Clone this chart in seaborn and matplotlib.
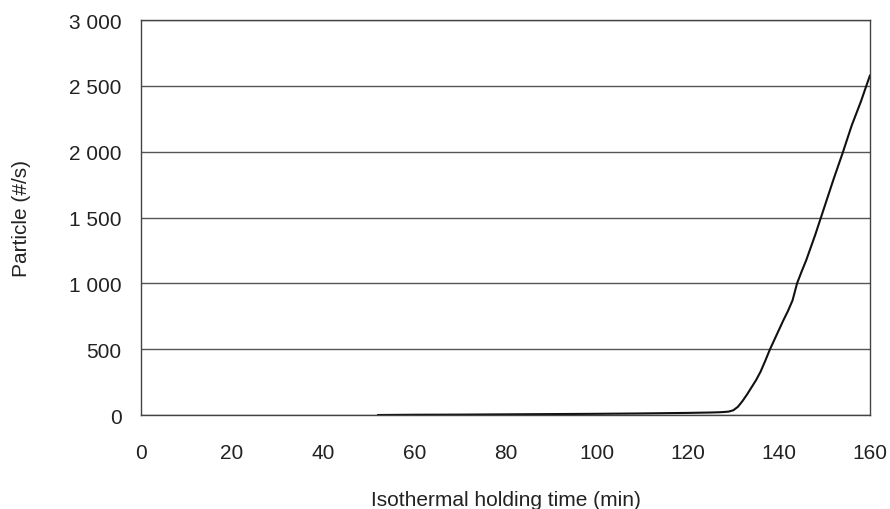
import matplotlib
matplotlib.use("Agg")
import matplotlib.pyplot as plt
from matplotlib.ticker import FuncFormatter, MultipleLocator
import seaborn as sns
import pandas as pd

time_min = [52, 60, 70, 80, 90, 100, 110, 120, 125, 127, 128, 129, 130, 131, 132, 133,
            134, 135, 136, 137, 138, 139, 140, 141, 142, 143, 144, 145, 146, 148,
            150, 152, 154, 156, 158, 160]
particles = [0, 2, 3, 5, 7, 9, 12, 16, 19, 21, 23, 26, 36, 62, 105, 155,
             210, 265, 330, 410, 495, 570, 645, 720, 790, 870, 1000, 1090, 1175, 1370,
             1580, 1790, 1990, 2200, 2380, 2580]

x_label = "Isothermal holding time (min)"
y_label = "Particle (#/s)"

df = pd.DataFrame({"t": time_min, "p": particles})

sns.set_theme(style="white")
plt.rcParams["font.family"] = ["Liberation Sans", "DejaVu Sans"]

fig = plt.figure(figsize=(8.9, 5.1), dpi=100)
ax = fig.add_axes([0.1584, 0.1843, 0.9775 - 0.1584, 0.9588 - 0.1843])

sns.lineplot(data=df, x="t", y="p", ax=ax, color="#111111", linewidth=1.5)

ax.set_xlim(0, 160)
ax.set_ylim(0, 3000)
ax.xaxis.set_major_locator(MultipleLocator(20))
ax.yaxis.set_major_locator(MultipleLocator(500))
ax.yaxis.set_major_formatter(FuncFormatter(lambda v, p: f"{int(v):,}".replace(",", " ")))
ax.yaxis.grid(True, color="#555555", linewidth=1.0)
ax.xaxis.grid(False)
ax.set_axisbelow(True)
for s in ax.spines.values():
    s.set_color("#444444")
    s.set_linewidth(1.0)
    s.set_visible(True)

ax.tick_params(axis="x", length=0, pad=20, labelsize=15, colors="#222222")
ax.tick_params(axis="y", length=0, pad=14, labelsize=15, colors="#222222")
ax.set_xlabel(x_label, fontsize=15, color="#222222", labelpad=20)
ax.set_ylabel(y_label, fontsize=15, color="#222222", labelpad=27)

fig.savefig("out.png", dpi=100)
